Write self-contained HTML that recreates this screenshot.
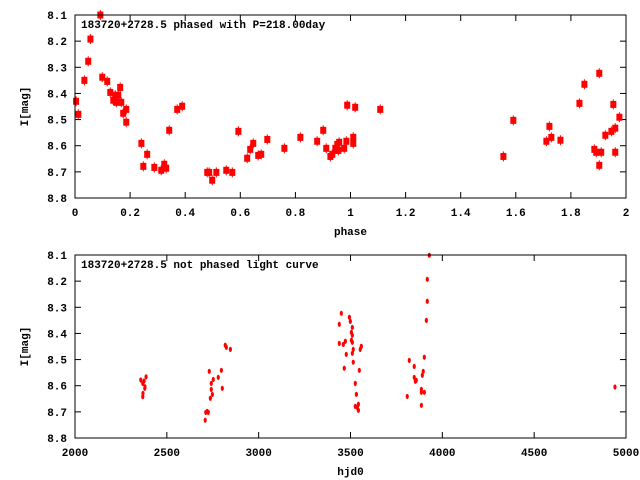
<!DOCTYPE html>
<html><head><meta charset="utf-8"><style>
html,body{margin:0;padding:0;background:#fff;}
svg{display:block;font-family:"Liberation Mono",monospace;font-weight:bold;font-size:11px;}
</style></head><body>
<svg id="c" width="640" height="480" xmlns="http://www.w3.org/2000/svg"></svg>
<script>
const phaseX=[0.004,0.012,0.034,0.048,0.056,0.092,0.099,0.117,0.128,0.139,0.146,0.150,0.157,0.164,0.168,0.175,0.186,0.186,0.241,0.248,0.262,0.288,0.313,0.324,0.331,0.342,0.371,0.389,0.480,0.487,0.498,0.513,0.549,0.571,0.593,0.625,0.636,0.647,0.665,0.676,0.698,0.760,0.818,0.879,0.901,0.912,0.927,0.934,0.945,0.952,0.956,0.959,0.977,0.985,0.988,1.010,1.010,1.017,1.108,1.555,1.591,1.711,1.722,1.729,1.762,1.831,1.849,1.885,1.892,1.903,1.903,1.910,1.925,1.947,1.954,1.961,1.961,1.976];
const phaseMag=[8.430,8.480,8.350,8.277,8.192,8.100,8.338,8.354,8.396,8.426,8.407,8.434,8.407,8.377,8.434,8.476,8.461,8.510,8.591,8.679,8.633,8.683,8.694,8.671,8.686,8.541,8.461,8.449,8.702,8.702,8.732,8.702,8.694,8.702,8.545,8.648,8.614,8.591,8.637,8.633,8.576,8.610,8.568,8.583,8.541,8.610,8.641,8.633,8.610,8.595,8.618,8.587,8.610,8.583,8.445,8.591,8.568,8.453,8.461,8.641,8.503,8.583,8.526,8.568,8.579,8.438,8.365,8.614,8.625,8.323,8.675,8.625,8.560,8.545,8.442,8.533,8.625,8.491];
const hjd=[2358,2376,2387,2369,2381,2370,2369,2380,2709,2712,2720,2726,2731,2737,2742,2742,2748,2753,2780,2797,2802,2818,2824,2846,3439,3450,3439,3461,3472,3466,3477,3494,3499,3505,3510,3510,3505,3510,3515,3510,3515,3526,3532,3526,3537,3543,3543,3548,3553,3559,3809,3820,3847,3847,3853,3858,3886,3886,3891,3896,3902,3902,3886,3913,3918,3918,3929,4940];
const hjdMag=[8.578,8.582,8.566,8.591,8.604,8.629,8.642,8.610,8.732,8.702,8.698,8.702,8.545,8.648,8.614,8.591,8.633,8.576,8.568,8.541,8.610,8.445,8.453,8.461,8.365,8.323,8.438,8.442,8.430,8.533,8.480,8.338,8.354,8.396,8.377,8.407,8.426,8.434,8.461,8.476,8.510,8.591,8.633,8.679,8.683,8.671,8.694,8.541,8.461,8.449,8.641,8.503,8.526,8.568,8.583,8.579,8.614,8.625,8.560,8.545,8.491,8.625,8.675,8.350,8.277,8.193,8.101,8.605];
const magTicks=[8.1,8.2,8.3,8.4,8.5,8.6,8.7,8.8];
const phaseTicks=[0,0.2,0.4,0.6,0.8,1,1.2,1.4,1.6,1.8,2];
const phaseTickLabels=["0","0.2","0.4","0.6","0.8","1","1.2","1.4","1.6","1.8","2"];
const hjdTicks=[2000,2500,3000,3500,4000,4500,5000];

const svg=document.getElementById('c');
const NS='http://www.w3.org/2000/svg';
function mk(tag,attrs,parent){const e=document.createElementNS(NS,tag);for(const k in attrs)e.setAttribute(k,attrs[k]);(parent||svg).appendChild(e);return e;}
function panel(name,top,bot,xmin,xmax,xticks,xlabels,xs,ys,title,xtitle,big){
  const L=75,R=626;
  const g=mk('g',{});
  
  
  const fx=v=>L+(v-xmin)/(xmax-xmin)*(R-L);
  const fy=v=>top+(v-8.1)/0.7*(bot-top);
  magTicks.forEach(t=>{const y=fy(t);
    mk('line',{x1:L,x2:L+6,y1:y,y2:y,stroke:'#000'},g);
    mk('line',{x1:R-6,x2:R,y1:y,y2:y,stroke:'#000'},g);
    const tx=mk('text',{x:67,y:y+4,'text-anchor':'end'},g);tx.textContent=t.toFixed(1);
    
    });
  xticks.forEach((t,i)=>{const x=fx(t);
    mk('line',{x1:x,x2:x,y1:bot,y2:bot-6,stroke:'#000'},g);
    mk('line',{x1:x,x2:x,y1:top,y2:top+6,stroke:'#000'},g);
    const tx=mk('text',{x:x,y:bot+18,'text-anchor':'middle'},g);tx.textContent=xlabels[i];
    
    });
  xs.forEach((v,i)=>{const x=fx(v),y=fy(ys[i]);
    let m;
    if(big){mk('line',{x1:x,x2:x,y1:y-5,y2:y+5,stroke:'#f00'},g);m=mk('rect',{x:x-3,y:y-3.5,width:6,height:7,fill:'#f00'},g);}
    else{m=mk('ellipse',{cx:x,cy:y,rx:1.6,ry:2.6,fill:'#f00'},g);}
    
    });
  const f=mk('rect',{x:L,y:top,width:R-L,height:bot-top,fill:'none',stroke:'#000'},g);
  
  
  const t=mk('text',{x:81,y:top+13},g);t.textContent=title;
  
  
  const xt=mk('text',{x:(L+R)/2,y:bot+37,'text-anchor':'middle'},g);xt.textContent=xtitle;
  
  
  const cy=(top+bot)/2;
  const yt=mk('text',{x:28,y:cy,'text-anchor':'middle',transform:'rotate(-90 28 '+cy+')'},g);yt.textContent='I[mag]';
  
  
}
panel('phased-panel',15,198,0,2,phaseTicks,phaseTickLabels,phaseX,phaseMag,'183720+2728.5 phased with P=218.00day','phase',true);
panel('unphased-panel',255,438,2000,5000,hjdTicks,hjdTicks.map(String),hjd,hjdMag,'183720+2728.5 not phased light curve','hjd0',false);
</script>
</body></html>
